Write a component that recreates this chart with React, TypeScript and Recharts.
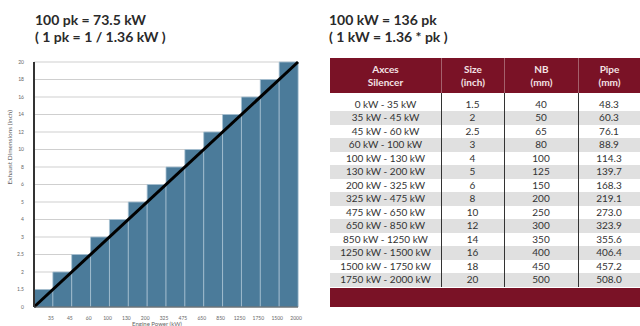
import React from "react";
import { BarChart, Bar, XAxis, YAxis, CartesianGrid, ReferenceLine } from "recharts";

const ranges = [
  "0 kW - 35 kW", "35 kW - 45 kW", "45 kW - 60 kW", "60 kW - 100 kW", "100 kW - 130 kW",
  "130 kW - 200 kW", "200 kW - 325 kW", "325 kW - 475 kW", "475 kW - 650 kW", "650 kW - 850 kW",
  "850 kW - 1250 kW", "1250 kW - 1500 kW", "1500 kW - 1750 kW", "1750 kW - 2000 kW",
];
const sizes = ["1.5", "2", "2.5", "3", "4", "5", "6", "8", "10", "12", "14", "16", "18", "20"];
const nb = ["40", "50", "65", "80", "100", "125", "150", "200", "250", "300", "350", "400", "450", "500"];
const pipe = ["48.3", "60.3", "76.1", "88.9", "114.3", "139.7", "168.3", "219.1", "273.0", "323.9", "355.6", "406.4", "457.2", "508.0"];
const xTickLabels = ["35", "45", "60", "100", "130", "200", "325", "475", "650", "850", "1250", "1750", "1500", "2000"];
const yTickLabels = ["0", "1.5", "2", "2.5", "3", "4", "5", "6", "8", "10", "12", "14", "16", "18", "20"];

const chartData = xTickLabels.map((label, i) => ({
  label,
  size: yTickLabels.indexOf(sizes[i]),
}));
const yTickIdx = yTickLabels.map((_, i) => i);
const nBars = chartData.length;
const yMax = yTickLabels.length - 1;

const FONT = "Lato, 'Open Sans', sans-serif";
const RED = "#7a1226";

const titleStyle: React.CSSProperties = {
  position: "absolute",
  fontFamily: FONT,
  fontWeight: 700,
  fontSize: 14,
  lineHeight: "17px",
  color: "#2a2a2a",
  whiteSpace: "pre",
};

// Diagonal drawn between band centres, then extended by half a band at each end
// so that it runs from the bottom-left corner to the top-right corner of the plot.
const DiagonalShape = (props: any) => {
  const { x1, y1, x2, y2 } = props;
  if ([x1, y1, x2, y2].some((v) => typeof v !== "number" || isNaN(v))) return null;
  const k = 0.5 / (nBars - 1);
  const dx = x2 - x1;
  const dy = y2 - y1;
  return (
    <line
      x1={x1 - dx * k}
      y1={y1 - dy * k}
      x2={x2 + dx * k}
      y2={y2 + dy * k}
      stroke="#000"
      strokeWidth={3}
    />
  );
};

export default function App() {
  const colW = [111, 63, 74, 62];
  const colX = [0, 111, 174, 248];
  const headerH = 35;
  const rowTop = 39.5;
  const rowH = 13.5;
  return (
    <div style={{ position: "absolute", left: 0, top: 0, width: 640, height: 326, overflow: "hidden", background: "#fff" }}>
      <div style={{ ...titleStyle, left: 35, top: 11 }}>{"100 pk = 73.5 kW\n( 1 pk = 1 / 1.36 kW )"}</div>
      <div style={{ ...titleStyle, left: 329, top: 11 }}>{"100 kW = 136 pk\n( 1 kW = 1.36 * pk )"}</div>

      <div style={{ position: "absolute", left: 0, top: 0 }}>
        <BarChart
          width={320}
          height={326}
          data={chartData}
          margin={{ top: 62, right: 22, bottom: 0, left: 0 }}
          barCategoryGap={0}
        >
          <CartesianGrid horizontal vertical={false} stroke="#cfcfcf" />
          <XAxis
            dataKey="label"
            height={19}
            interval={0}
            tickLine={false}
            axisLine={{ stroke: "#555", strokeWidth: 1 }}
            tick={{ fontSize: 5, fill: "#666", fontFamily: FONT, dx: 7.5 }}
            tickMargin={3}
            label={{ value: "Engine Power (kW)", position: "insideBottom", offset: 0.5, dx: -9, fontSize: 6, fill: "#666", fontFamily: FONT }}
          />
          <YAxis
            type="number"
            domain={[0, yMax]}
            ticks={yTickIdx}
            interval={0}
            width={34}
            tickLine={false}
            axisLine={{ stroke: "#333", strokeWidth: 2 }}
            tickFormatter={(v: number) => yTickLabels[v]}
            tick={{ fontSize: 5, fill: "#666", fontFamily: FONT }}
            tickMargin={4}
            label={{ value: "Exhaust Dimensions (inch)", angle: -90, position: "insideLeft", offset: 10, fontSize: 6.5, fill: "#666", fontFamily: FONT }}
          />
          <Bar dataKey="size" fill="#4b7b9a" stroke="#a9c3d3" strokeWidth={0.8} isAnimationActive={false} />
          <ReferenceLine
            segment={[
              { x: xTickLabels[0], y: 0.5 },
              { x: xTickLabels[nBars - 1], y: yMax - 0.5 },
            ]}
            ifOverflow="visible"
            shape={DiagonalShape}
          />
        </BarChart>
      </div>

      <div style={{ position: "absolute", left: 330, top: 58, width: 310, height: 250, fontFamily: FONT }}>
        <div style={{ position: "absolute", left: 0, top: 0, width: 310, height: headerH, background: RED }} />
        {["Axces\nSilencer", "Size\n(inch)", "NB\n(mm)", "Pipe\n(mm)"].map((h, c) => (
          <div
            key={h}
            style={{
              position: "absolute",
              left: colX[c],
              top: 0,
              width: colW[c],
              height: headerH,
              display: "flex",
              alignItems: "center",
              justifyContent: "center",
              textAlign: "center",
              whiteSpace: "pre",
              color: "#f4e2e5",
              fontWeight: 700,
              fontSize: 10,
              lineHeight: "12.5px",
              borderLeft: c > 0 ? "1px solid #a5606c" : "none",
              boxSizing: "border-box",
            }}
          >
            {h}
          </div>
        ))}
        {ranges.map((r, i) => {
          const cells = [r, sizes[i], nb[i], pipe[i]];
          return (
            <div key={r} style={{ position: "absolute", left: 0, top: rowTop + i * rowH, width: 310, height: rowH, background: i % 2 === 1 ? "#e0e0e0" : "#fff" }}>
              {cells.map((t, c) => (
                <div
                  key={c}
                  style={{
                    position: "absolute",
                    left: colX[c],
                    top: 0,
                    width: colW[c],
                    height: rowH,
                    lineHeight: `${rowH}px`,
                    textAlign: "center",
                    fontSize: 10,
                    color: "#333",
                  }}
                >
                  {t}
                </div>
              ))}
            </div>
          );
        })}
        {[1, 2, 3].map((c) => (
          <div key={c} style={{ position: "absolute", left: colX[c], top: headerH, width: 1, height: rowTop + ranges.length * rowH - headerH, background: "#333" }} />
        ))}
        <div style={{ position: "absolute", left: 0, top: 230, width: 310, height: 19, background: RED }} />
      </div>
    </div>
  );
}
